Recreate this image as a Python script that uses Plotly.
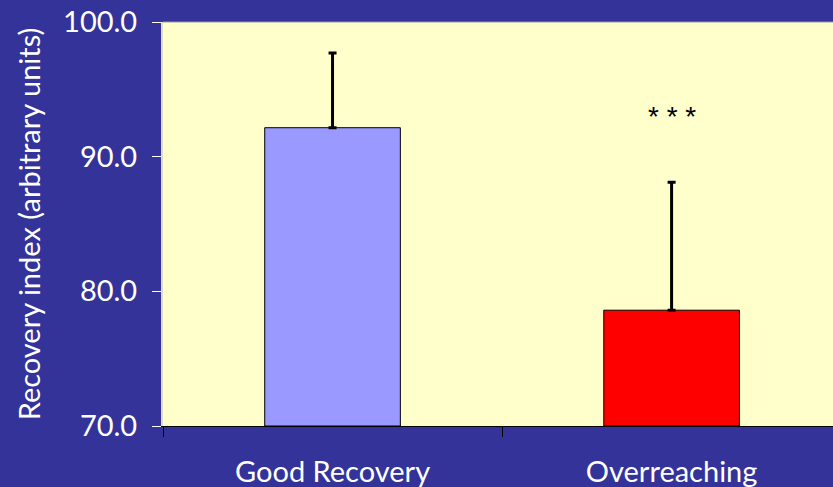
import plotly.graph_objects as go

# Group means with upper error (SD) for the recovery index
groups = ["Good Recovery", "Overreaching"]
means = [92.15, 78.6]
sd_upper = [5.55, 9.5]
bar_colors = ["#9999FF", "#FF0000"]
y_ticks = [70, 80, 90, 100]
significance = "* * *"
significance_y = 93.0

fig = go.Figure()

fig.add_trace(go.Bar(
    x=groups,
    y=[m - 70 for m in means],
    base=70,
    width=0.4,
    marker=dict(color=bar_colors, line=dict(color="#000000", width=1)),
    error_y=dict(type="data", array=sd_upper, arrayminus=[0, 0], symmetric=False,
                 color="#000000", thickness=3, width=4),
    hoverinfo="skip",
))

fig.add_annotation(
    x=groups[1], y=significance_y, text=significance, showarrow=False,
    font=dict(family="Liberation Sans", size=28, color="#000000"),
)

# thin grey frame line along the top of the plotting area
fig.add_shape(type="line", xref="paper", yref="paper", x0=0, x1=1, y0=1, y1=1,
              line=dict(color="#999999", width=1))

font_family = "Lato"

fig.update_layout(
    width=833, height=487,
    margin=dict(l=163, r=0, t=22, b=61),
    paper_bgcolor="#333399",
    plot_bgcolor="#FFFFCC",
    showlegend=False,
    font=dict(family=font_family, color="#FFFFFF"),
)

fig.update_xaxes(
    type="category",
    range=[-0.5, 1.476],
    tickson="boundaries",
    ticks="outside", ticklen=10, tickcolor="#000000", tickwidth=1,
    showline=True, linecolor="#000000", linewidth=1,
    showgrid=False, zeroline=False,
    tickfont=dict(family=font_family, size=29, color="#FFFFFF"),
    ticklabelstandoff=20,
)

fig.update_yaxes(
    range=[70, 100],
    tickvals=y_ticks,
    tickformat=".1f",
    ticks="outside", ticklen=9, tickcolor="#FFFFFF", tickwidth=1,
    showline=True, linecolor="#DDDDCC", linewidth=2,
    showgrid=False, zeroline=False,
    tickfont=dict(family=font_family, size=29, color="#FFFFFF"),
    ticklabelstandoff=9,
    title=dict(text="Recovery index (arbitrary units)",
               font=dict(family=font_family, size=29, color="#FFFFFF"),
               standoff=14),
)

fig.write_html("out.html")
